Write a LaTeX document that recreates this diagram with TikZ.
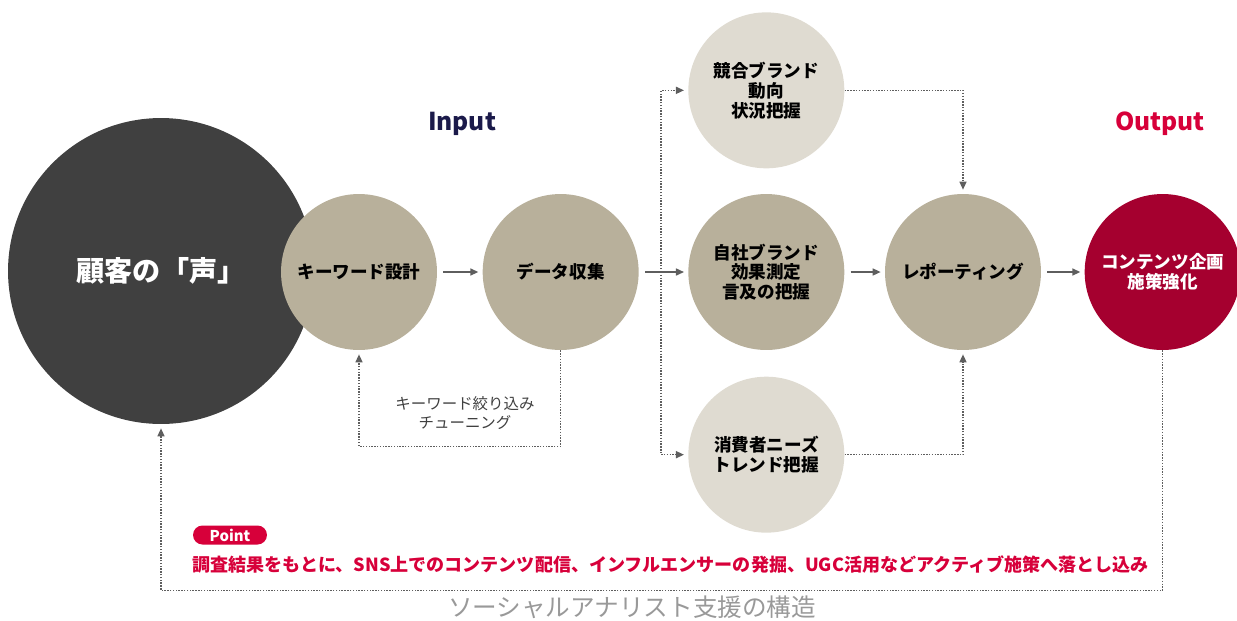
\documentclass[tikz,border=0pt]{standalone}
\usepackage{fontspec}
\setmainfont{Noto Sans CJK JP}
\usetikzlibrary{arrows.meta,positioning,calc}

\definecolor{voicegray}{HTML}{404040}
\definecolor{tan}{HTML}{B8B09B}
\definecolor{lighttan}{HTML}{DFDBD1}
\definecolor{outred}{HTML}{A5002F}
\definecolor{pointred}{HTML}{D7003A}
\definecolor{inputblue}{HTML}{1B1A4A}
\definecolor{arrowgray}{HTML}{5E5E5E}
\definecolor{notegray}{HTML}{999999}

\begin{document}
\begin{tikzpicture}[x=0.02cm,y=-0.02cm,
  proc/.style={circle, fill=tan, minimum size=3.12cm, inner sep=0pt, align=center,
    font=\bfseries\fontsize{10}{11.3}\selectfont},
  sub/.style={proc, fill=lighttan},
  flow/.style={-{Triangle[length=1.6mm,width=1.4mm]}, draw=arrowgray, line width=0.85pt,
    shorten <=0.12cm, shorten >=0.08cm},
  loop/.style={-{Triangle[length=1.6mm,width=1.4mm]}, draw=arrowgray, line width=0.8pt,
    dash pattern=on 0.8pt off 0.8pt}]
\useasboundingbox (0,0) rectangle (1237,620);

\node [circle, fill=voicegray, minimum size=6.12cm, text=white,
  font=\bfseries\fontsize{16}{18}\selectfont] (voice) at (161,271) {顧客の「声」};
\node [proc] (key) at (359,272) {キーワード設計};
\node [proc] (data) [right=0.9cm of key] {データ収集};
\node [proc] (self) [right=0.98cm of data] {自社ブランド\\効果測定\\言及の把握};
\node [sub] (comp) [above=0.5cm of self] {競合ブランド\\動向\\状況把握};
\node [sub] (cons) [below=0.52cm of self] {消費者ニーズ\\トレンド把握};
\node [proc] (rep) [right=0.8cm of self] {レポーティング};
\node [proc, fill=outred, text=white] (out) [right=0.86cm of rep] {コンテンツ企画\\施策強化};

\node [text=inputblue, font=\bfseries\fontsize{14}{16}\selectfont] (input) at (462,124) {Input};
\node [text=pointred, font=\bfseries\fontsize{14}{16}\selectfont] (output) at (1160,124) {Output};

\coordinate (fork) at ($(data.east)!0.45!(self.west)$);

\draw [flow] (key) -- (data);
\draw [flow] (data) -- (self);
\draw [flow] (self) -- (rep);
\draw [flow] (rep) -- (out);
\draw [loop, shorten >=0.08cm] (fork) |- (comp.west);
\draw [loop, shorten >=0.08cm] (fork) |- (cons.west);
\draw [loop, shorten >=0.08cm] (comp.east) -| (rep.north);
\draw [loop, shorten >=0.08cm] (cons.east) -| (rep.south);
\draw [loop, shorten >=0.08cm] (data.south) -- ++(0,96) -| (key.south);
\draw [loop, shorten >=0.08cm] (out.south) -- ++(0,240) -| (voice.south);

\node [text=voicegray, align=center, font=\fontsize{8.8}{10.8}\selectfont] (tune) at (465,413)
  {キーワード絞り込み\\チューニング};

\node [fill=pointred, rounded corners=0.19cm, minimum width=1.48cm, minimum height=0.38cm,
  inner sep=0pt, text=white, font=\bfseries\fontsize{8.5}{9}\selectfont] (point) at (230,535) {Point};
\node [anchor=west, inner sep=0pt, text=pointred, font=\bfseries\fontsize{10.27}{12}\selectfont] (pointtxt) at (192,565)
  {調査結果をもとに、SNS上でのコンテンツ配信、インフルエンサーの発掘、UGC活用などアクティブ施策へ落とし込み};
\node [text=notegray, font=\fontsize{14}{16}\selectfont] (caption) at (632,607) {ソーシャルアナリスト支援の構造};
\end{tikzpicture}
\end{document}
